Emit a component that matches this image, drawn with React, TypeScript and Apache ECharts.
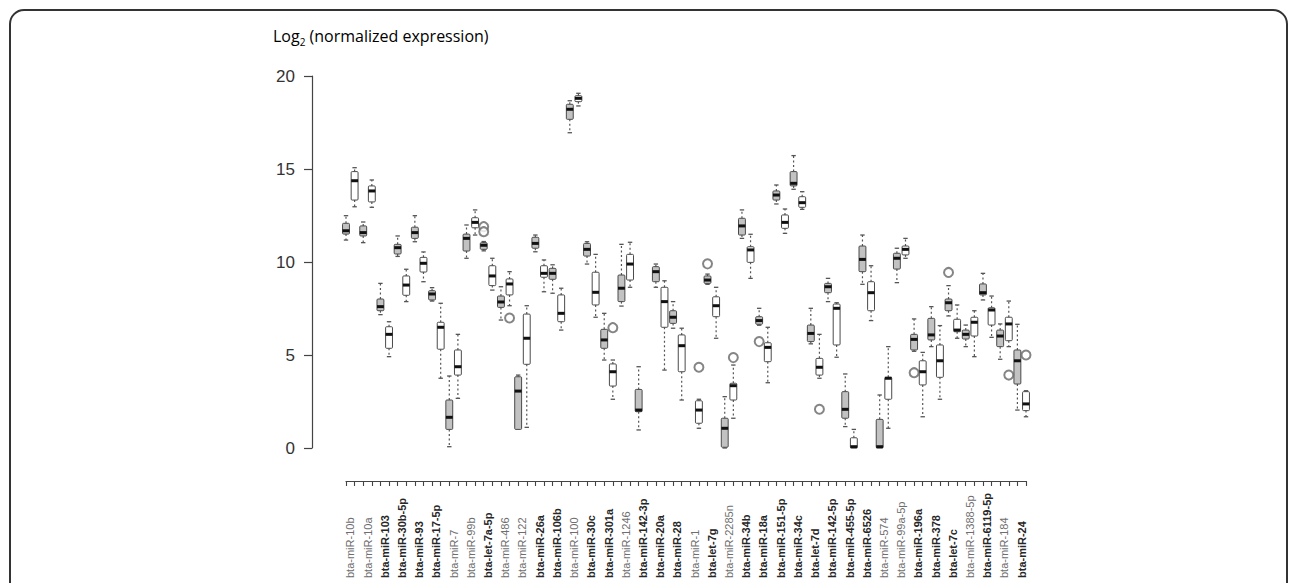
import React, { useEffect, useRef } from "react";
import * as echarts from "echarts";

// miRNA names (one label per pair of boxes)
const mirnaLabels = [
  "bta-miR-10b", "bta-miR-10a", "bta-miR-103", "bta-miR-30b-5p", "bta-miR-93",
  "bta-miR-17-5p", "bta-miR-7", "bta-miR-99b", "bta-let-7a-5p", "bta-miR-486",
  "bta-miR-122", "bta-miR-26a", "bta-miR-106b", "bta-miR-100", "bta-miR-30c",
  "bta-miR-301a", "bta-miR-1246", "bta-miR-142-3p", "bta-miR-20a", "bta-miR-28",
  "bta-miR-1", "bta-let-7g", "bta-miR-2285n", "bta-miR-34b", "bta-miR-18a",
  "bta-miR-151-5p", "bta-miR-34c", "bta-let-7d", "bta-miR-142-5p", "bta-miR-455-5p",
  "bta-miR-6526", "bta-miR-574", "bta-miR-99a-5p", "bta-miR-196a", "bta-miR-378",
  "bta-let-7c", "bta-miR-1388-5p", "bta-miR-6119-5p", "bta-miR-184", "bta-miR-24",
];
const boldLabel = [
  0, 0, 1, 1, 1, 1, 0, 0, 1, 0,
  0, 1, 1, 0, 1, 1, 0, 1, 1, 1,
  0, 1, 0, 1, 1, 1, 1, 1, 1, 1,
  1, 0, 0, 1, 1, 1, 0, 1, 0, 1,
];

// 80 box positions: even index = grey group, odd index = white group (null = no box)
const whiskerLow = [
  11.18, 12.97, 11.04, 12.94, 7.17, 4.91, 10.3, 7.87, 11.09, 8.94,
  7.9, 3.75, 0.07, 2.67, 10.2, 11.45, 10.6, 8.49, 6.88, 7.65,
  1.0, 1.11, 10.55, 8.4, 8.32, 6.34, 16.95, 18.39, 9.89, 7.03,
  4.73, 2.62, 7.63, 8.64, 0.97, null, 8.64, 4.19, 6.44, 2.58,
  null, 1.06, 8.8, 5.9, 0, 1.6, 11.27, 9.12, 6.6, 3.51,
  13.12, 11.54, 13.91, 12.83, 5.6, 3.75, 7.87, 4.88, 1.15, 0,
  8.8, 6.85, 0, 1.06, 8.89, 10.2, 5.2, 1.68, 5.45, 2.62,
  7.1, 5.9, 5.45, 4.91, 7.96, 5.95, 4.77, 5.45, 2.04, 1.68,
];
const boxQ1 = [
  11.5, 13.33, 11.4, 13.23, 7.38, 5.36, 10.43, 8.21, 11.27, 9.46,
  7.96, 5.31, 1.0, 3.92, 10.59, 11.84, 10.68, 8.73, 7.56, 8.23,
  1.0, 4.5, 10.74, 9.18, 9.07, 6.79, 17.67, 18.62, 10.32, 7.69,
  5.36, 3.33, 7.87, 9.03, 1.95, null, 8.94, 6.49, 6.7, 4.1,
  null, 1.33, 8.85, 7.06, 0.04, 2.58, 11.45, 9.98, 6.65, 4.64,
  13.33, 11.81, 14.09, 12.94, 5.72, 3.92, 8.35, 5.54, 1.6, 0,
  9.48, 7.38, 0, 2.62, 9.62, 10.38, 5.27, 3.39, 5.81, 3.8,
  7.38, 6.25, 5.86, 6.02, 8.23, 6.61, 5.45, 5.77, 3.44, 2.01,
];
const boxMedian = [
  11.68, 14.37, 11.58, 13.82, 7.6, 6.11, 10.77, 8.76, 11.58, 9.93,
  8.28, 6.49, 1.65, 4.37, 11.27, 12.13, 10.9, 9.25, 7.85, 8.82,
  3.06, 5.9, 11.0, 9.39, 9.39, 7.24, 18.21, 18.8, 10.68, 8.37,
  5.81, 4.1, 8.59, 9.89, 2.04, null, 9.48, 7.87, 7.03, 5.5,
  null, 2.04, 9.03, 7.65, 1.06, 3.35, 11.94, 10.65, 6.85, 5.41,
  13.6, 12.13, 14.23, 13.19, 6.16, 4.34, 8.67, 7.51, 2.08, 0.07,
  10.14, 8.35, 0.07, 3.75, 10.2, 10.68, 5.84, 4.1, 6.08, 4.69,
  7.81, 6.34, 6.11, 6.76, 8.35, 7.42, 6.02, 6.67, 4.69, 2.37,
];
const boxQ3 = [
  12.08, 14.86, 11.94, 14.09, 8.01, 6.52, 10.95, 9.25, 11.87, 10.25,
  8.46, 6.76, 2.58, 5.27, 11.5, 12.38, 11.04, 9.8, 8.17, 9.09,
  3.83, 7.2, 11.33, 9.8, 9.66, 8.23, 18.48, 18.94, 11.0, 9.45,
  6.38, 4.52, 9.3, 10.41, 3.15, null, 9.75, 8.64, 7.38, 6.08,
  null, 2.54, 9.25, 8.13, 1.6, 3.48, 12.35, 10.82, 7.06, 5.66,
  13.82, 12.53, 14.86, 13.51, 6.61, 4.82, 8.85, 7.74, 3.03, 0.55,
  10.86, 8.94, 1.54, 3.8, 10.47, 10.86, 6.11, 4.69, 6.97, 5.54,
  8.01, 6.92, 6.34, 7.03, 8.82, 7.54, 6.34, 7.03, 5.27, 3.03,
];
const whiskerHigh = [
  12.49, 15.07, 12.15, 14.41, 8.85, 6.79, 11.4, 9.61, 12.49, 10.54,
  8.62, 7.78, 3.87, 6.11, 11.99, 12.8, 11.1, 10.2, 8.67, 9.48,
  3.92, 7.65, 11.45, 10.11, 9.85, 8.59, 18.67, 19.07, 11.09, 10.41,
  7.24, 4.73, 10.95, 11.06, 4.37, null, 9.89, 8.99, 7.87, 6.44,
  null, 2.62, 9.35, 8.64, 2.76, 4.46, 12.8, 11.49, 7.51, 6.49,
  14.14, 12.85, 15.72, 13.78, 7.51, 6.11, 9.12, 7.81, 3.98, 1.0,
  11.45, 9.8, 2.85, 5.45, 10.74, 11.27, 6.94, 5.14, 7.6, 6.58,
  8.73, 7.69, 6.61, 7.38, 9.39, 8.17, 6.67, 7.9, 6.65, 3.08,
];

// outliers: box position index and value
const outlierIndex = [16, 16, 19, 31, 41, 42, 45, 48, 55, 66, 70, 77, 79];
const outlierValue = [11.9, 11.63, 6.99, 6.47, 4.34, 9.9, 4.86, 5.72, 2.08, 4.05, 9.44, 3.92, 5.0];

const yTicks = [0, 5, 10, 15, 20];

const GREY = "#c2c2c2";
const WHITE = "#ffffff";
const EDGE = "#4a4a4a";

const W = 1296;
const H = 583;
const GRID_LEFT = 346;
const GRID_RIGHT = 270;
const GRID_TOP = 76;
const GRID_BOTTOM = 135;
const STEP = (W - GRID_LEFT - GRID_RIGHT) / 79;

export default function App() {
  const ref = useRef<HTMLDivElement>(null);

  useEffect(() => {
    if (!ref.current) return;
    const chart = echarts.init(ref.current, undefined, { renderer: "svg" });

    const boxIds = mirnaLabels.flatMap((l) => [l + " (A)", l + " (B)"]);
    const boxData: any[] = [];
    for (let i = 0; i < boxIds.length; i++) {
      if (boxMedian[i] == null) continue;
      boxData.push([i, whiskerLow[i], boxQ1[i], boxMedian[i], boxQ3[i], whiskerHigh[i]]);
    }
    const outlierData = outlierIndex.map((i, k) => [i, outlierValue[k]]);

    const option: any = {
      animation: false,
      backgroundColor: "#ffffff",
      grid: [
        { left: GRID_LEFT, right: GRID_RIGHT, top: GRID_TOP, bottom: GRID_BOTTOM },
        { left: GRID_LEFT - STEP / 2, right: GRID_RIGHT - STEP / 2, top: GRID_TOP, bottom: GRID_BOTTOM },
      ],
      xAxis: [
        {
          type: "category",
          gridIndex: 0,
          data: boxIds,
          boundaryGap: false,
          offset: 33,
          axisLine: { show: true, onZero: false, lineStyle: { color: "#444", width: 1.2 } },
          axisTick: { show: true, length: 5, interval: 0, lineStyle: { color: "#444", width: 1.1 } },
          axisLabel: { show: false },
          splitLine: { show: false },
        },
        {
          type: "category",
          gridIndex: 1,
          data: mirnaLabels,
          boundaryGap: true,
          offset: 33,
          axisLine: { show: false, onZero: false },
          axisTick: { show: false },
          splitLine: { show: false },
          axisLabel: {
            show: true,
            interval: 0,
            rotate: 90,
            margin: 97,
            align: "left",
            verticalAlign: "middle",
            hideOverlap: false,
            formatter: (v: string, idx: number) => (boldLabel[idx] ? "{b|" + v + "}" : "{n|" + v + "}"),
            rich: {
              b: { fontFamily: "Liberation Sans", fontSize: 11, fontWeight: "bold", color: "#262626" },
              n: { fontFamily: "Liberation Sans", fontSize: 11, fontWeight: "normal", color: "#6e6e6e" },
            },
          },
        },
      ],
      yAxis: [
        {
          type: "value",
          gridIndex: 0,
          min: 0,
          max: 20,
          interval: 5,
          offset: 34,
          axisLine: { show: true, onZero: false, lineStyle: { color: "#444", width: 1.2 } },
          axisTick: { show: true, length: 8, lineStyle: { color: "#444", width: 1.2 } },
          axisLabel: {
            show: true,
            margin: 17,
            fontSize: 17,
            fontFamily: "Liberation Sans",
            color: "#333",
            formatter: (v: number) => (yTicks.includes(v) ? String(v) : ""),
          },
          splitLine: { show: false },
        },
        { type: "value", gridIndex: 1, min: 0, max: 20, show: false },
      ],
      series: [
        {
          type: "custom",
          xAxisIndex: 0,
          yAxisIndex: 0,
          clip: false,
          data: boxData,
          encode: { x: 0, y: [1, 2, 3, 4, 5] },
          renderItem: (params: any, api: any) => {
            const x = api.value(0);
            const pLow = api.coord([x, api.value(1)]);
            const pQ1 = api.coord([x, api.value(2)]);
            const pMed = api.coord([x, api.value(3)]);
            const pQ3 = api.coord([x, api.value(4)]);
            const pHigh = api.coord([x, api.value(5)]);
            const step = api.size([1, 0])[0];
            const bw = step * 0.8;
            const cx = pMed[0];
            const fill = x % 2 === 0 ? GREY : WHITE;
            const capW = 2.2;
            const children: any[] = [];
            if (pHigh[1] < pQ3[1] - 0.5) {
              children.push({
                type: "line",
                shape: { x1: cx, y1: pQ3[1], x2: cx, y2: pHigh[1] },
                style: { stroke: "#555", lineWidth: 1.2, lineDash: [2, 2.5] },
              });
              children.push({
                type: "line",
                shape: { x1: cx - capW, y1: pHigh[1], x2: cx + capW, y2: pHigh[1] },
                style: { stroke: "#555", lineWidth: 1.3 },
              });
            }
            if (pLow[1] > pQ1[1] + 0.5) {
              children.push({
                type: "line",
                shape: { x1: cx, y1: pQ1[1], x2: cx, y2: pLow[1] },
                style: { stroke: "#555", lineWidth: 1.2, lineDash: [2, 2.5] },
              });
              children.push({
                type: "line",
                shape: { x1: cx - capW, y1: pLow[1], x2: cx + capW, y2: pLow[1] },
                style: { stroke: "#555", lineWidth: 1.3 },
              });
            }
            children.push({
              type: "rect",
              shape: { x: cx - bw / 2, y: pQ3[1], width: bw, height: Math.max(pQ1[1] - pQ3[1], 1), r: 1 },
              style: { fill, stroke: EDGE, lineWidth: 1 },
            });
            children.push({
              type: "line",
              shape: { x1: cx - bw / 2, y1: pMed[1], x2: cx + bw / 2, y2: pMed[1] },
              style: { stroke: "#111", lineWidth: 3 },
            });
            return { type: "group", children };
          },
        },
        {
          type: "scatter",
          xAxisIndex: 0,
          yAxisIndex: 0,
          data: outlierData,
          symbol: "emptyCircle",
          symbolSize: 9,
          itemStyle: { color: "#666", borderWidth: 1.1 },
          silent: true,
        },
      ],
      graphic: [
        {
          type: "rect",
          shape: { x: 10, y: 10, width: 1277, height: 640, r: 14 },
          style: { fill: "none", stroke: "#333", lineWidth: 2 },
          silent: true,
        },
        {
          type: "text",
          x: 273,
          y: 36,
          style: {
            text: "{t|Log}{s|2}{t| (normalized expression)}",
            verticalAlign: "middle",
            rich: {
              t: { fontFamily: "Open Sans", fontSize: 16, color: "#444", lineHeight: 22, verticalAlign: "middle" },
              s: { fontFamily: "Open Sans", fontSize: 10, color: "#444", lineHeight: 22, verticalAlign: "bottom", padding: [0, 0, 0, 0] },
            },
          },
        },
      ],
    };

    chart.setOption(option);
    return () => chart.dispose();
  }, []);

  return (
    <div
      ref={ref}
      style={{ position: "absolute", left: 0, top: 0, width: W, height: H, background: "#fff" }}
    />
  );
}
